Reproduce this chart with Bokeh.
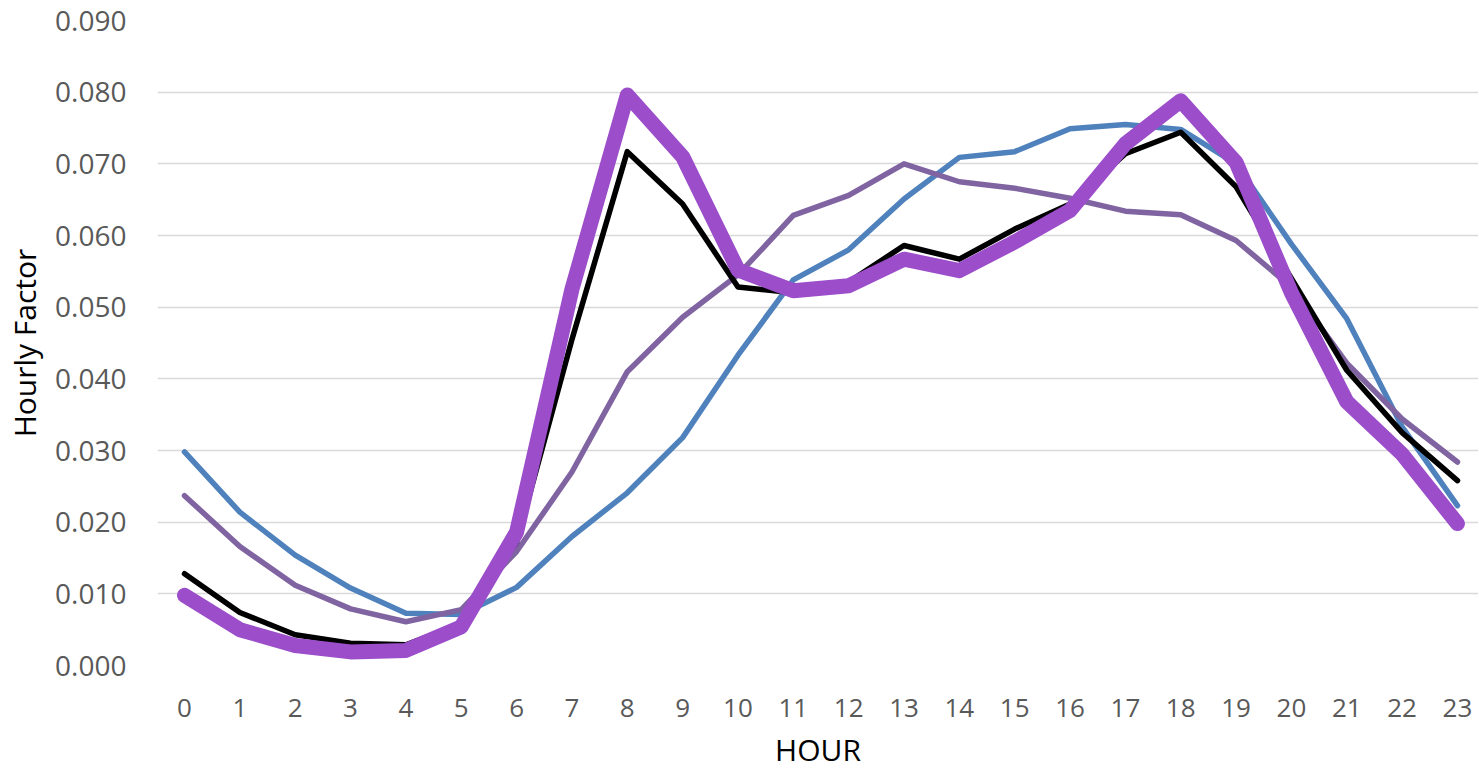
from bokeh.plotting import figure
from bokeh.models import Range1d, FixedTicker, NumeralTickFormatter
from bokeh.embed import file_html
from bokeh.resources import INLINE

hours = list(range(24))
x_labels = [str(h) for h in hours]
y_ticks = [0.0, 0.01, 0.02, 0.03, 0.04, 0.05, 0.06, 0.07, 0.08, 0.09]
x_title = "HOUR"
y_title = "Hourly Factor"

series_blue = [0.0298, 0.0214, 0.0154, 0.0108, 0.0073, 0.0071, 0.0109, 0.0180, 0.0241, 0.0318,
               0.0433, 0.0538, 0.0580, 0.0651, 0.0709, 0.0717, 0.0749, 0.0755, 0.0748, 0.0700,
               0.0588, 0.0484, 0.0333, 0.0223]
series_grape = [0.0237, 0.0166, 0.0112, 0.0079, 0.0061, 0.0078, 0.0159, 0.0270, 0.0410, 0.0486,
                0.0545, 0.0628, 0.0656, 0.0700, 0.0675, 0.0666, 0.0652, 0.0634, 0.0629, 0.0593,
                0.0528, 0.0422, 0.0344, 0.0284]
series_black = [0.0128, 0.0074, 0.0043, 0.0031, 0.0029, 0.0058, 0.0172, 0.0455, 0.0717, 0.0644,
                0.0528, 0.0520, 0.0535, 0.0586, 0.0567, 0.0609, 0.0644, 0.0714, 0.0744, 0.0668,
                0.0540, 0.0412, 0.0325, 0.0258]
series_thick = [0.0098, 0.0050, 0.0028, 0.0019, 0.0021, 0.0054, 0.0186, 0.0525, 0.0796, 0.0710,
                0.0552, 0.0523, 0.0530, 0.0567, 0.0551, 0.0591, 0.0635, 0.0728, 0.0788, 0.0702,
                0.0520, 0.0368, 0.0295, 0.0198]

W, H = 1478, 772
p = figure(width=W, height=H, output_backend="svg", toolbar_location=None,
           x_range=Range1d(-0.488, 23.38), y_range=Range1d(0, 0.09),
           min_border_left=157, min_border_right=0, min_border_top=20, min_border_bottom=106)
p.outline_line_color = None
p.background_fill_color = "white"
p.border_fill_color = "white"

p.line(hours, series_blue, line_color="#4F81BD", line_width=5.5, line_join="round", line_cap="round")
p.line(hours, series_grape, line_color="#8064A2", line_width=5.5, line_join="round", line_cap="round")
p.line(hours, series_black, line_color="#000000", line_width=5.5, line_join="round", line_cap="round")
p.line(hours, series_thick, line_color="#9B4DCA", line_width=15, line_join="round", line_cap="round")

# y axis
p.yaxis.ticker = FixedTicker(ticks=y_ticks)
p.yaxis.formatter = NumeralTickFormatter(format="0.000")
p.yaxis.axis_line_color = None
p.yaxis.major_tick_line_color = None
p.yaxis.minor_tick_line_color = None
p.yaxis.major_tick_out = 0
p.yaxis.major_tick_in = 0
p.yaxis.major_label_standoff = 31
p.yaxis.major_label_text_font = "Open Sans"
p.yaxis.major_label_text_font_size = "28px"
p.yaxis.major_label_text_color = "#595959"
p.yaxis.axis_label = y_title
p.yaxis.axis_label_text_font = "Open Sans"
p.yaxis.axis_label_text_font_size = "30px"
p.yaxis.axis_label_text_font_style = "normal"
p.yaxis.axis_label_text_color = "#000000"
p.yaxis.axis_label_standoff = 7

# x axis
p.xaxis.ticker = FixedTicker(ticks=hours)
p.xaxis.major_label_overrides = {h: lbl for h, lbl in zip(hours, x_labels)}
p.xaxis.axis_line_color = None
p.xaxis.major_tick_line_color = None
p.xaxis.minor_tick_line_color = None
p.xaxis.major_tick_out = 0
p.xaxis.major_tick_in = 0
p.xaxis.major_label_standoff = 33
p.xaxis.major_label_text_font = "Open Sans"
p.xaxis.major_label_text_font_size = "26px"
p.xaxis.major_label_text_color = "#595959"
p.xaxis.axis_label = x_title
p.xaxis.axis_label_text_font = "Open Sans"
p.xaxis.axis_label_text_font_size = "30px"
p.xaxis.axis_label_text_font_style = "normal"
p.xaxis.axis_label_text_color = "#000000"
p.xaxis.axis_label_standoff = 9

p.xgrid.grid_line_color = None
p.ygrid.ticker = FixedTicker(ticks=y_ticks)
p.ygrid.grid_line_color = "#D9D9D9"
p.ygrid.grid_line_width = 1.5

open("out.html", "w").write(file_html(p, INLINE))
